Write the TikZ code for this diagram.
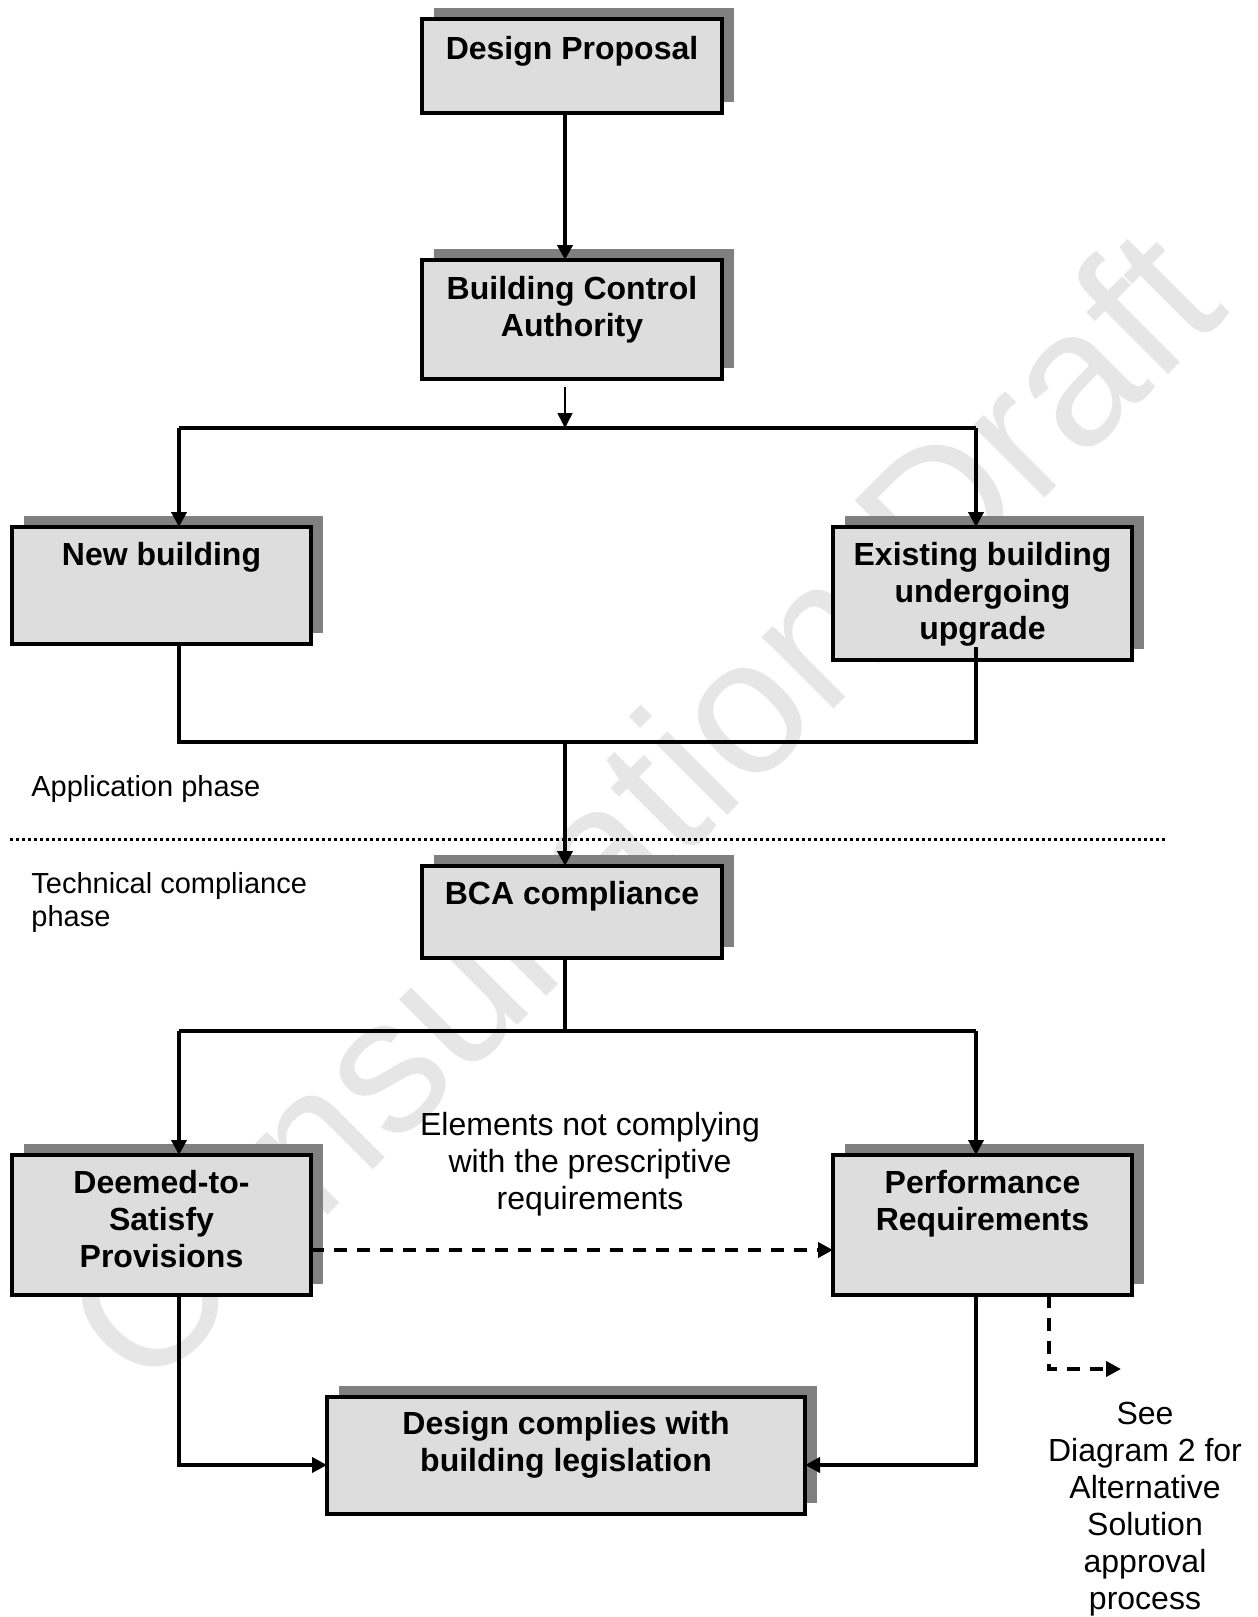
\documentclass[tikz,border=0pt]{standalone}
\usepackage{fontspec}
\setmainfont{Liberation Sans}
\usetikzlibrary{arrows.meta,shadows}
\definecolor{boxfill}{RGB}{221,221,221}
\definecolor{shadowfill}{RGB}{128,128,128}
\definecolor{wmgray}{RGB}{230,230,230}
\begin{document}
\begin{tikzpicture}[x=0.5pt,y=-0.5pt,
  box/.style={draw, line width=2pt, fill=boxfill, inner sep=0pt, outer sep=0pt,
    general shadow={fill=shadowfill, shadow xshift=6pt, shadow yshift=5.5pt}},
  btxt/.style={font=\fontsize{16pt}{18.5pt}\selectfont\bfseries, align=center, inner sep=0pt, anchor=north},
  rtxt/.style={font=\fontsize{16pt}{18.5pt}\selectfont, align=center, inner sep=0pt, anchor=north},
  ptxt/.style={font=\fontsize{14.5pt}{16.5pt}\selectfont, align=left, inner sep=0pt, anchor=north west},
  wm/.style={text=wmgray, font=\fontsize{96pt}{96pt}\selectfont, rotate=45, inner sep=0pt},
  conn/.style={line width=2pt, line join=miter},
  arr/.style={conn, -{Triangle[width=7.5pt,length=7.5pt]}},
  thinarr/.style={line width=0.75pt, -{Triangle[width=7.5pt,length=7.5pt]}},
  dasharr/.style={arr, dash pattern=on 6.5pt off 5pt},
  dotline/.style={line width=1.5pt, dash pattern=on 1.5pt off 1.5pt}
]
\useasboundingbox (0,0) rectangle (1258,1617);
\fill[white] (0,0) rectangle (1258,1617);

% watermark
\node[wm] (wmark) at (640,806) {Consultation Draft};

% boxes
\node[box, minimum width=150pt, minimum height=47pt] (dp) at (572,66) {};
\node[box, minimum width=150pt, minimum height=59.5pt] (bca) at (572,319.5) {};
\node[box, minimum width=149.5pt, minimum height=58.5pt] (nb) at (161.5,585.5) {};
\node[box, minimum width=149.5pt, minimum height=66.5pt] (eb) at (982.5,593.5) {};
\node[box, minimum width=150pt, minimum height=46pt] (bcac) at (572,912) {};
\node[box, minimum width=149.5pt, minimum height=70pt] (dts) at (161.5,1225) {};
\node[box, minimum width=149.5pt, minimum height=70pt] (pr) at (982.5,1225) {};
\node[box, minimum width=239pt, minimum height=58.5pt] (dc) at (566,1455.5) {};

% box texts
\node[btxt] (dpt) at ([yshift=-8.5pt]dp.north) {Design Proposal};
\node[btxt] (bcat) at ([yshift=-8pt]bca.north) {Building Control\\Authority};
\node[btxt] (nbt) at ([yshift=-7.5pt]nb.north) {New building};
\node[btxt] (ebt) at ([yshift=-7.5pt]eb.north) {Existing building\\undergoing\\upgrade};
\node[btxt] (bcact) at ([yshift=-7.5pt]bcac.north) {BCA compliance};
\node[btxt] (dtst) at ([yshift=-7.5pt]dts.north) {Deemed-to-\\Satisfy\\Provisions};
\node[btxt] (prt) at ([yshift=-7.5pt]pr.north) {Performance\\Requirements};
\node[btxt] (dct) at ([yshift=-7pt]dc.north) {Design complies with\\building legislation};

% free texts
\node[ptxt] (app) at (31,775) {Application phase};
\node[ptxt] (tech) at (31,872) {Technical compliance\\phase};
\node[rtxt] (elem) at (590,1112) {Elements not complying\\with the prescriptive\\requirements};
\node[rtxt] (see) at (1145,1402) {See\\Diagram 2 for\\Alternative\\Solution\\approval\\process};

% coordinates
\coordinate (c1) at (565,428);
\coordinate (t0) at (565,387);
\coordinate (bl1) at (179,428);
\coordinate (br1) at (976,428);
\coordinate (eb0) at (976,647);
\coordinate (bl2) at (179,742);
\coordinate (br2) at (976,742);
\coordinate (c2) at (565,742);
\coordinate (c3) at (565,1031);
\coordinate (bl3) at (179,1031);
\coordinate (br3) at (976,1031);
\coordinate (dy) at (0,1250);
\coordinate (j4) at (179,1465);
\coordinate (j5) at (976,1465);
\coordinate (k1) at (1049,1369);
\coordinate (k2) at (1121,1369);
\coordinate (d1) at (10,839);
\coordinate (d2) at (1167,839);

% connectors
\draw[arr] (dp.south -| c1) -- (bca.north -| c1);
\draw[thinarr] (t0) -- (c1);
\draw[conn] (bl1) -- (br1);
\draw[arr] (bl1) -- (bl1 |- nb.north);
\draw[arr] (br1) -- (br1 |- eb.north);
\draw[conn] (nb.south -| bl2) -- (bl2) -- (br2) -- (eb0);
\draw[arr] (c2) -- (bcac.north -| c2);
\draw[dotline] (d1) -- (d2);
\draw[conn] (bcac.south -| c3) -- (c3);
\draw[conn] (bl3) -- (br3);
\draw[arr] (bl3) -- (bl3 |- dts.north);
\draw[arr] (br3) -- (br3 |- pr.north);
\draw[dasharr] (dts.east |- dy) -- (pr.west |- dy);
\draw[arr] (dts.south -| j4) -- (j4) -- (dc.west |- j4);
\draw[arr] (pr.south -| j5) -- (j5) -- (dc.east |- j5);
\draw[dasharr] (pr.south -| k1) -- (k1) -- (k2);
\end{tikzpicture}
\end{document}
